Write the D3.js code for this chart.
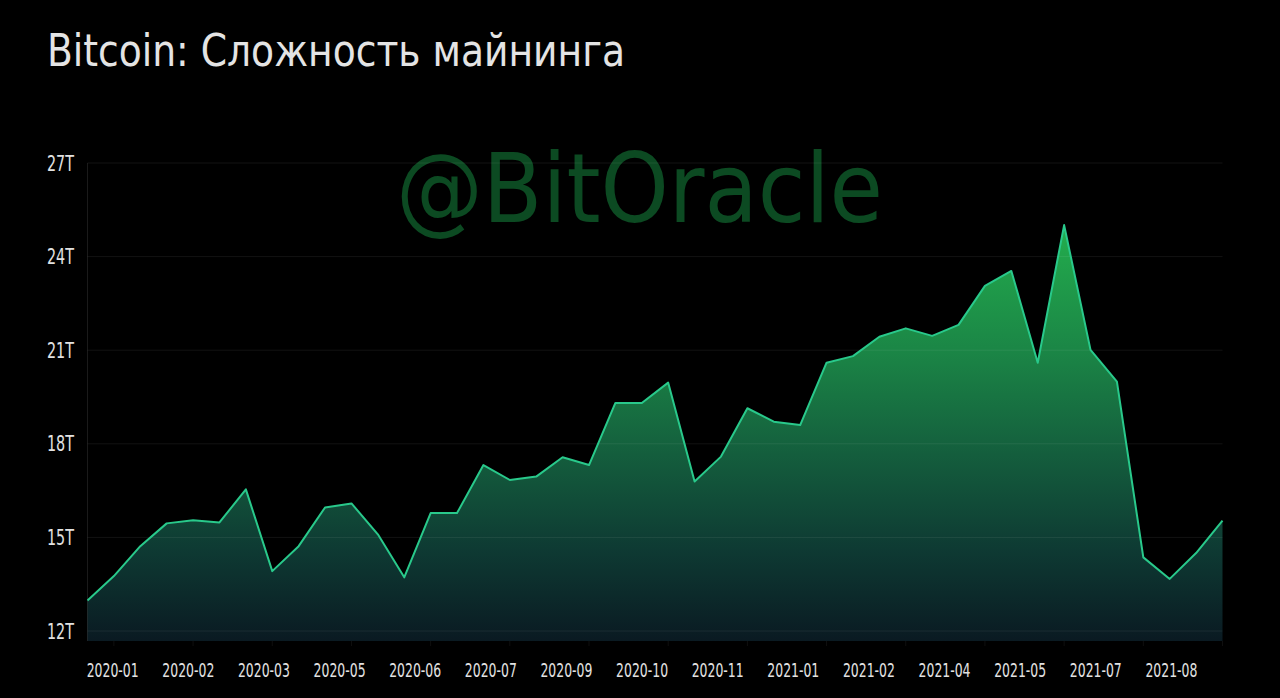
<!DOCTYPE html>
<html>
<head>
<meta charset="utf-8">
<script src="https://cdn.jsdelivr.net/npm/d3@7"></script>
<style>
  html, body { margin: 0; padding: 0; background: #000; }
  svg { display: block; }
  .cond { font-family: "Liberation Sans Narrow", "DejaVu Sans Condensed", "Open Sans", sans-serif; font-stretch: condensed; }
</style>
</head>
<body>
<svg id="chart" width="1280" height="698"></svg>
<script>
// ---- data ----
const title = "Bitcoin: Сложность майнинга";
const watermark = "@BitOracle";
const categories = [
  "2019-12","2020-01","2020-01","2020-01","2020-02","2020-02","2020-03","2020-03","2020-04","2020-04",
  "2020-05","2020-05","2020-06","2020-06","2020-06","2020-07","2020-07","2020-08","2020-08","2020-09",
  "2020-09","2020-09","2020-10","2020-11","2020-11","2020-11","2020-12","2020-12","2021-01","2021-01",
  "2021-02","2021-02","2021-03","2021-03","2021-04","2021-04","2021-04","2021-05","2021-05","2021-06",
  "2021-07","2021-07","2021-07","2021-08"
];
const difficulty = [ // in T
  12.98, 13.76, 14.72, 15.45, 15.55, 15.48, 16.54, 13.92, 14.72, 15.96,
  16.09, 15.10, 13.72, 15.78, 15.78, 17.32, 16.84, 16.95, 17.57, 17.32,
  19.31, 19.31, 19.96, 16.79, 17.59, 19.14, 18.71, 18.60, 20.60, 20.81,
  21.43, 21.70, 21.46, 21.81, 23.06, 23.54, 20.60, 25.01, 21.01, 19.99,
  14.36, 13.67, 14.50, 15.54
];
const yTicks = [12, 15, 18, 21, 24, 27];
const xTickLabels = ["2020-01","2020-02","2020-03","2020-05","2020-06","2020-07","2020-09","2020-10",
  "2020-11","2021-01","2021-02","2021-04","2021-05","2021-07","2021-08"];
const yMin = 11.68, yMax = 27;

(function () {
  const svg = d3.select("#chart");
  const pL = 87.5, pR = 1222.5, pT = 163, pB = 641;
  const n = difficulty.length;
  const idx = d3.range(n);
  const x = d3.scalePoint().domain(idx).range([pL, pR]);
  const y = d3.scaleLinear().domain([yMin, yMax]).range([pB, pT]);
  // tick indices: every third category starting from index 1
  const tickIdx = xTickLabels.map((lab, k) => 1 + 3 * k);
  // labels are placed on a slightly compressed copy of the category scale
  const xLab = d3.scalePoint().domain(idx).range([pL, pL + (pR - pL) * 0.955]);

  svg.append("rect").attr("width", 1280).attr("height", 698).attr("fill", "#000");

  svg.append("text").attr("class", "cond")
    .attr("x", 47).attr("y", 66)
    .attr("font-size", 45).attr("fill", "#e4e4e4")
    .attr("textLength", 578).attr("lengthAdjust", "spacingAndGlyphs")
    .text(title);

  svg.append("text").attr("class", "cond")
    .attr("x", 396).attr("y", 222)
    .attr("font-size", 97).attr("fill", "#0c4a22")
    .attr("textLength", 487).attr("lengthAdjust", "spacingAndGlyphs")
    .text(watermark);

  const defs = svg.append("defs");
  const grad = defs.append("linearGradient").attr("id", "areaGrad")
    .attr("gradientUnits", "userSpaceOnUse")
    .attr("x1", 0).attr("x2", 0)
    .attr("y1", y(d3.max(difficulty))).attr("y2", pB);
  [[0, "#23ad4d"], [0.3, "#1b8646"], [0.55, "#145e3d"], [0.78, "#0e3a33"], [1, "#0a1a22"]]
    .forEach(([o, c]) => grad.append("stop").attr("offset", o).attr("stop-color", c));

  const area = d3.area().x((d, i) => x(i)).y0(pB).y1(d => y(d));
  svg.append("path").datum(difficulty).attr("d", area).attr("fill", "url(#areaGrad)");

  svg.append("g").selectAll("line").data(yTicks).join("line")
    .attr("x1", pL).attr("x2", pR)
    .attr("y1", d => y(d)).attr("y2", d => y(d))
    .attr("stroke", "rgba(255,255,255,0.07)").attr("stroke-width", 1);

  svg.append("line").attr("x1", pL).attr("x2", pL).attr("y1", pT).attr("y2", pB)
    .attr("stroke", "rgba(255,255,255,0.1)");

  svg.append("g").selectAll("line").data(tickIdx).join("line")
    .attr("x1", d => x(d)).attr("x2", d => x(d))
    .attr("y1", pB).attr("y2", pB + 5)
    .attr("stroke", "rgba(255,255,255,0.06)");

  const line = d3.line().x((d, i) => x(i)).y(d => y(d));
  svg.append("path").datum(difficulty).attr("d", line)
    .attr("fill", "none").attr("stroke", "#29c98b").attr("stroke-width", 2)
    .attr("stroke-linejoin", "round");

  svg.append("g").selectAll("text").data(yTicks).join("text").attr("class", "cond")
    .attr("x", 74).attr("y", d => y(d)).attr("dy", "0.36em")
    .attr("text-anchor", "end").attr("font-size", 21).attr("fill", "#e2e2e2")
    .attr("textLength", 27).attr("lengthAdjust", "spacingAndGlyphs")
    .text(d => d + "T");

  svg.append("g").selectAll("text").data(tickIdx).join("text").attr("class", "cond")
    .attr("x", d => xLab(d)).attr("y", 677)
    .attr("text-anchor", "middle").attr("font-size", 19).attr("fill", "#e2e2e2")
    .attr("textLength", 52).attr("lengthAdjust", "spacingAndGlyphs")
    .text((d, k) => xTickLabels[k]);
})();
</script>
</body>
</html>
